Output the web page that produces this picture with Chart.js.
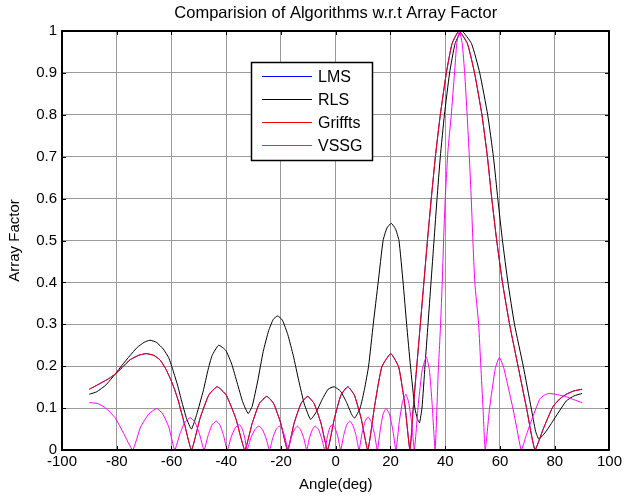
<!DOCTYPE html>
<html><head><meta charset="utf-8">
<script src="https://cdn.jsdelivr.net/npm/chart.js@4.4.1/dist/chart.umd.min.js"></script>
<style>html,body{margin:0;padding:0;background:#fff;}#c{display:block;}</style>
</head><body>
<canvas id="c" width="625" height="498"></canvas>
<script>
const titleText = 'Comparision of Algorithms w.r.t Array Factor';
const xAxisTitle = 'Angle(deg)';
const yAxisTitle = 'Array Factor';
const seriesNames = ['LMS', 'RLS', 'Griffts', 'VSSG'];
const xTickLabels = ['-100','-80','-60','-40','-20','0','20','40','60','80','100'];
const yTickLabels = ['0','0.1','0.2','0.3','0.4','0.5','0.6','0.7','0.8','0.9','1'];

const lmsAngles = [-90,-86,-83,-80.6,-78,-75.2,-72,-69.3,-66.5,-64.2,-62.3,-60.6,-59,-57.5,-55.1,-52.7,
  -49.6,-46.4,-43.3,-40,-36.5,-33.2,
  -30.5,-27.9,-25.2,-22.7,-20.1,-17.6,
  -15.2,-12.7,-10.3,-7.9,-5.4,-3,
  -0.5,1.9,4.4,6.8,9.3,11.7,
  14.2,16.8,20.1,23,25.3,27.1,
  28.3,29.6,30.9,32.2,33.5,34.9,36.4,38.2,40.4,42.5,45,48.1,50.7,53.4,55.4,57,58.8,60.9,63.5,66.6,69.7,72.8,
  75.8,79.3,82,84.2,87,90];
const lmsValues = [0.145,0.159,0.17,0.181,0.197,0.215,0.226,0.23,0.226,0.215,0.196,0.173,0.147,0.117,0.058,0,
  0.075,0.131,0.151,0.131,0.075,0,
  0.064,0.111,0.128,0.111,0.064,0,
  0.064,0.111,0.128,0.111,0.064,0,
  0.075,0.131,0.151,0.131,0.075,0,
  0.105,0.198,0.23,0.198,0.105,0,
  0.1,0.2,0.3,0.4,0.5,0.6,0.7,0.8,0.9,0.97,1.0,0.97,0.9,0.8,0.7,0.6,0.5,0.4,0.3,0.2,0.1,0,
  0.05,0.103,0.123,0.133,0.141,0.145];

const griffAngles = [-90,-86,-83,-80.6,-78,-75.2,-72,-69.3,-66.5,-64.2,-62.3,-60.6,-59,-57.5,-55.1,-52.7,
  -49.6,-46.4,-43.3,-40,-36.5,-33.2,
  -30.5,-27.9,-25.2,-22.7,-20.1,-17.6,
  -15.2,-12.7,-10.3,-7.9,-5.4,-3,
  -0.5,1.9,4.4,6.8,9.3,11.7,
  14.2,16.8,20.1,23,25.3,27.1,
  28.3,29.6,30.9,32.2,33.5,34.9,36.4,38.2,40.4,42.5,45,48.1,50.7,53.4,55.4,57,58.8,60.9,63.5,66.6,69.7,72.8,
  75.8,79.3,82,84.2,87,90];
const griffValues = [0.145,0.159,0.17,0.181,0.197,0.215,0.226,0.23,0.226,0.215,0.196,0.173,0.147,0.117,0.058,0,
  0.075,0.131,0.151,0.131,0.075,0,
  0.064,0.111,0.128,0.111,0.064,0,
  0.064,0.111,0.128,0.111,0.064,0,
  0.075,0.131,0.151,0.131,0.075,0,
  0.105,0.198,0.23,0.198,0.105,0,
  0.1,0.2,0.3,0.4,0.5,0.6,0.7,0.8,0.9,0.97,1.0,0.97,0.9,0.8,0.7,0.6,0.5,0.4,0.3,0.2,0.1,0,
  0.05,0.103,0.123,0.133,0.141,0.145];

const rlsAngles = [-90,-87.3,-84,-80.6,-78,-75.2,-72.5,-70,-67.9,-65.5,-63,-61,-59.4,-57.8,-56.3,-54.5,-52.7,
  -50.8,-48.4,-46.7,-45.2,-42.8,-40.2,-38,-36,-34,-32,
  -30.5,-28.5,-26.5,-24.5,-22.8,-21.2,-19.5,-17.5,-15.5,-13.5,-11.5,-9.2,
  -7.2,-5,-2.8,-0.6,1.8,4,5.8,6.9,
  8.9,10.5,12,13.7,15.5,17.3,18.7,20.3,21.8,23.1,24.6,25.9,27.3,28.9,29.8,30.6,
  31.5,32.6,33.7,34.8,35.9,37,38.2,39.7,41.6,43.6,46,49.6,52.6,55.5,57.6,59.2,60.9,62.9,65.3,68.5,71.4,73,74.2,
  76.9,80.5,84.2,87,90];
const rlsValues = [0.133,0.139,0.155,0.181,0.203,0.225,0.245,0.257,0.262,0.257,0.241,0.22,0.189,0.155,0.117,0.075,0.05,
  0.085,0.141,0.19,0.225,0.25,0.238,0.205,0.16,0.115,0.087,
  0.105,0.165,0.235,0.285,0.312,0.32,0.31,0.275,0.225,0.165,0.11,0.073,
  0.09,0.12,0.145,0.151,0.14,0.113,0.085,0.076,
  0.1,0.145,0.2,0.3,0.4,0.5,0.53,0.541,0.528,0.5,0.4,0.3,0.2,0.1,0.075,0.065,
  0.1,0.2,0.3,0.4,0.5,0.6,0.7,0.8,0.9,0.97,1.0,0.97,0.9,0.8,0.7,0.6,0.5,0.4,0.3,0.2,0.1,0.045,0.026,
  0.045,0.081,0.117,0.129,0.135];

const vssgAngles = [-90,-87,-84,-80.6,-77.5,-74.2,
  -71.3,-68.3,-65.4,-63.2,-61,-58.8,
  -56.9,-55.1,-53.2,-51.5,-49.8,-48.1,
  -46.6,-45.2,-43.7,-42.3,-41,-39.6,
  -38.2,-36.7,-35.3,-34.3,-33.3,-32.4,
  -31,-29.5,-28.1,-26.8,-25.5,-24.2,
  -23,-21.8,-20.6,-19.5,-18.5,-17.4,
  -16.3,-15.1,-14,-12.9,-11.7,-10.6,
  -9.6,-8.5,-7.5,-6.3,-5.2,-4,
  -3.1,-2.2,-1.3,-0.3,0.8,1.8,
  2.9,4,5.1,6.2,7.4,8.5,
  9.6,10.7,11.8,12.9,14.1,15.2,
  16.3,17.3,18.4,19.6,20.8,22,
  23.2,24.4,25.6,26.6,27.7,28.7,
  30.2,31.6,33.1,34.2,35.2,36.3,
  37.4,38.3,38.9,39.4,40,41,42.2,43.4,44.2,45.2,46.2,47.1,48,48.8,49.5,50.1,50.8,52.2,53,53.8,54.6,
  56.2,58.3,59.8,61.4,63,64.7,66.2,67.8,
  69.6,71.4,74.5,76.2,78,81,84.2,87,90];
const vssgValues = [0.113,0.111,0.1,0.077,0.04,0,
  0.055,0.086,0.099,0.086,0.055,0,
  0.039,0.067,0.077,0.067,0.039,0,
  0.035,0.06,0.069,0.06,0.035,0,
  0.031,0.053,0.061,0.053,0.031,0,
  0.029,0.049,0.057,0.049,0.029,0,
  0.029,0.049,0.057,0.049,0.029,0,
  0.029,0.049,0.057,0.049,0.029,0,
  0.029,0.049,0.057,0.049,0.029,0,
  0.031,0.053,0.061,0.053,0.031,0,
  0.035,0.06,0.069,0.06,0.035,0,
  0.04,0.068,0.079,0.068,0.04,0,
  0.05,0.086,0.099,0.086,0.05,0,
  0.067,0.115,0.133,0.115,0.067,0,
  0.111,0.192,0.222,0.192,0.111,0,
  0.18,0.3,0.4,0.5,0.6,0.715,0.8,0.9,0.97,1.0,0.97,0.9,0.8,0.7,0.6,0.5,0.4,0.3,0.2,0.1,0,
  0.1,0.195,0.221,0.195,0.15,0.1,0.05,0,
  0.035,0.069,0.121,0.131,0.135,0.132,0.127,0.12,0.113];

const FONT = "'Liberation Sans', Arial, Helvetica, sans-serif";

function pts(a, v) { return a.map((x, i) => ({ x: x, y: v[i] })); }

const framePlugin = {
  id: 'frame',
  afterDatasetsDraw(chart) {
    const { ctx, chartArea: a, scales } = chart;
    const L = Math.round(a.left), R = Math.round(a.right), T = Math.round(a.top), B = Math.round(a.bottom);
    ctx.save();
    ctx.strokeStyle = '#000';
    ctx.lineWidth = 1;
    ctx.beginPath();
    scales.x.ticks.forEach(t => {
      const px = Math.round(scales.x.getPixelForValue(t.value)) + 0.5;
      ctx.moveTo(px, B); ctx.lineTo(px, B - 4);
      ctx.moveTo(px, T); ctx.lineTo(px, T + 4);
    });
    scales.y.ticks.forEach(t => {
      const py = Math.round(scales.y.getPixelForValue(t.value)) + 0.5;
      ctx.moveTo(L, py); ctx.lineTo(L + 4, py);
      ctx.moveTo(R, py); ctx.lineTo(R - 4, py);
    });
    ctx.stroke();
    ctx.lineWidth = 2;
    ctx.strokeRect(L, T, R - L, B - T);
    ctx.restore();
  },
  afterDraw(chart) {
    const { ctx, chartArea: a } = chart;
    const bx = Math.round(a.left + (a.right - a.left) * 0.345);
    const by = Math.round(a.top + (a.bottom - a.top) * 0.074);
    const bw = 121, bh = 98;
    ctx.save();
    ctx.fillStyle = '#fff';
    ctx.fillRect(bx, by, bw, bh);
    ctx.strokeStyle = '#000';
    ctx.lineWidth = 1.5;
    ctx.strokeRect(bx + 0.5, by + 0.5, bw, bh);
    ctx.font = '16px ' + FONT;
    ctx.textBaseline = 'middle';
    ctx.textAlign = 'left';
    chart.data.datasets.forEach((ds, i) => {
      const ry = Math.round(by + 14 + i * 23) + 0.5;
      ctx.strokeStyle = ds.borderColor;
      ctx.lineWidth = 1;
      ctx.beginPath();
      ctx.moveTo(bx + 11, ry); ctx.lineTo(bx + 61, ry);
      ctx.stroke();
      ctx.fillStyle = '#000';
      ctx.fillText(ds.label, bx + 67, ry + 1.5);
    });
    ctx.restore();
  }
};

const colors = ['#0000ff', '#000000', '#ff0000', '#ff00ff'];
const dataSets = [[lmsAngles, lmsValues], [rlsAngles, rlsValues], [griffAngles, griffValues], [vssgAngles, vssgValues]];
const drawOrder = [3, 2, 1, 0];

new Chart(document.getElementById('c'), {
  type: 'line',
  data: {
    datasets: dataSets.map((d, i) => ({
      label: seriesNames[i],
      data: pts(d[0], d[1]),
      borderColor: colors[i],
      backgroundColor: colors[i],
      borderWidth: 1,
      pointRadius: 0,
      tension: 0.15,
      fill: false,
      order: drawOrder[i]
    }))
  },
  options: {
    responsive: false,
    animation: false,
    devicePixelRatio: 1,
    layout: { padding: { left: 0, right: 15, top: 0, bottom: 0 } },
    plugins: {
      legend: { display: false },
      tooltip: { enabled: false },
      title: {
        display: true, text: titleText, color: '#000', fullSize: false,
        font: { family: FONT, size: 16.5, weight: 'normal' },
        padding: { top: 4, bottom: 7.2 }
      }
    },
    scales: {
      x: {
        type: 'linear', min: -100, max: 100,
        ticks: { stepSize: 20, color: '#000', font: { family: FONT, size: 15 }, padding: 3, maxRotation: 0,
          callback: (v, i) => xTickLabels[i] },
        grid: { color: '#9a9a9a', drawTicks: false, lineWidth: 1 },
        border: { display: false },
        title: { display: true, text: xAxisTitle, color: '#000', font: { family: FONT, size: 15 }, padding: { top: 0, bottom: 4 } },
        afterFit: (s) => { s.height = 48; }
      },
      y: {
        type: 'linear', min: 0, max: 1,
        ticks: { stepSize: 0.1, color: '#000', font: { family: FONT, size: 15 }, padding: 5,
          callback: (v, i) => yTickLabels[i] },
        grid: { color: '#9a9a9a', drawTicks: false, lineWidth: 1 },
        border: { display: false },
        title: { display: true, text: yAxisTitle, color: '#000', font: { family: FONT, size: 15 }, padding: { top: 6, bottom: 0 } },
        afterFit: (s) => { s.width = 62; }
      }
    }
  },
  plugins: [framePlugin]
});
</script>
</body></html>
